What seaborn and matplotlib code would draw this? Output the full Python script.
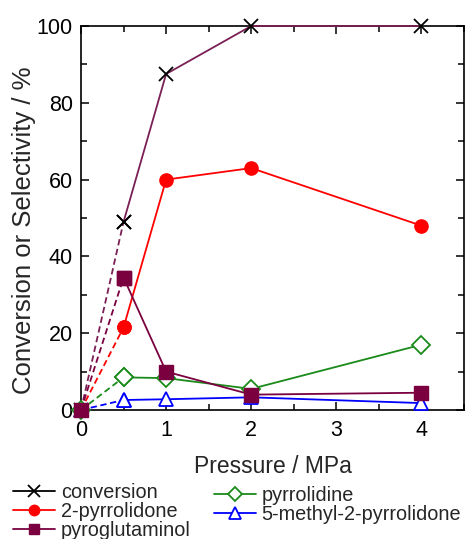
import matplotlib
matplotlib.use("Agg")
import matplotlib.pyplot as plt
from matplotlib.lines import Line2D
from matplotlib.ticker import MultipleLocator
import numpy as np
import pandas as pd
import seaborn as sns

# Reaction pressure (MPa) and results (%)
pressure = [0, 0.5, 1, 2, 4]
conversion = [0, 49, 87.5, 100, 100]
pyrrolidone = [0, 21.5, 60, 63, 48]
pyroglutaminol = [0, 34.5, 10, 4, 4.5]
pyrrolidine = [0, 8.5, 8.3, 5.5, 17]
methyl_pyrrolidone = [0, 2.6, 2.8, 3.3, 1.8]

series_names = ["conversion", "2-pyrrolidone", "pyroglutaminol",
                "pyrrolidine", "5-methyl-2-pyrrolidone"]
series_values = [conversion, pyrrolidone, pyroglutaminol,
                 pyrrolidine, methyl_pyrrolidone]

df = pd.DataFrame({
    "series": np.repeat(series_names, len(pressure)),
    "pressure": pressure * len(series_names),
    "value": np.concatenate(series_values),
})

styles = {
    "conversion": dict(line="#7a1f55", marker="x", mfc="black", mec="black", ms=10, mew=1.3, legend_line="black"),
    "2-pyrrolidone": dict(line="#ff0000", marker="o", mfc="#ff0000", mec="#ff0000", ms=9.5, mew=1.0, legend_line="#ff0000"),
    "pyroglutaminol": dict(line="#7a0040", marker="s", mfc="#7a0040", mec="#7a0040", ms=9.5, mew=1.0, legend_line="#7a0040"),
    "pyrrolidine": dict(line="#1a8a1a", marker="D", mfc="white", mec="#1a8a1a", ms=9.5, mew=1.3, legend_line="#1a8a1a"),
    "5-methyl-2-pyrrolidone": dict(line="#0000ff", marker="^", mfc="white", mec="#0000ff", ms=10, mew=1.3, legend_line="#0000ff"),
}
draw_order = ["5-methyl-2-pyrrolidone", "pyrrolidine", "2-pyrrolidone",
              "conversion", "pyroglutaminol"]

sns.set_theme(style="ticks")
plt.rcParams["font.family"] = ["Liberation Sans", "DejaVu Sans"]

fig = plt.figure(figsize=(4.69, 5.39), dpi=100)
ax = fig.add_axes([81 / 469, 1 - 410 / 539, (464 - 81) / 469, (410 - 26) / 539])

for z, name in enumerate(draw_order):
    st = styles[name]
    sub = df[df["series"] == name]
    first = sub[sub["pressure"] <= 0.5]
    rest = sub[sub["pressure"] >= 0.5]
    mk = dict(marker=st["marker"], markersize=st["ms"], markerfacecolor=st["mfc"],
              markeredgecolor=st["mec"], markeredgewidth=st["mew"], clip_on=False,
              zorder=3 + z)
    sns.lineplot(data=first, x="pressure", y="value", ax=ax, color=st["line"],
                 linestyle=(0, (3.5, 2)), linewidth=1.3, estimator=None, **mk)
    sns.lineplot(data=rest, x="pressure", y="value", ax=ax, color=st["line"],
                 linestyle="-", linewidth=1.3, estimator=None, **mk)

ax.set_xlim(0, 4.5)
ax.set_ylim(0, 100)
ax.xaxis.set_major_locator(MultipleLocator(1))
ax.xaxis.set_minor_locator(MultipleLocator(0.5))
ax.yaxis.set_major_locator(MultipleLocator(20))
ax.yaxis.set_minor_locator(MultipleLocator(10))
ax.tick_params(which="both", direction="in", top=True, right=True,
               labelsize=15.5, colors="black", width=1.1)
ax.tick_params(which="major", length=6)
ax.tick_params(which="minor", length=4)
ax.tick_params(axis="x", which="major", pad=7.5)
ax.tick_params(axis="y", which="major", pad=6)
for sp in ax.spines.values():
    sp.set_linewidth(1.2)
    sp.set_color("black")

ax.set_xlabel("Pressure / MPa", fontsize=16.5)
ax.xaxis.set_label_coords(0.5, (410 - 455) / 384)
ax.set_ylabel("Conversion or Selectivity / %", fontsize=18.5)
ax.yaxis.set_label_coords((36 - 81) / 383, (410 - 230) / 384)


def handle(name):
    st = styles[name]
    return Line2D([], [], color=st["legend_line"], linewidth=1.3, marker=st["marker"],
                  markersize=st["ms"] - 2, markerfacecolor=st["mfc"],
                  markeredgecolor=st["mec"], markeredgewidth=st["mew"])


legend_kw = dict(loc="upper left", frameon=False, fontsize=14.3, handlelength=2.1,
                 handletextpad=0.3, labelspacing=0.0, borderpad=0, borderaxespad=0)
left_names = series_names[:3]
right_names = series_names[3:]
fig.legend([handle(n) for n in left_names], left_names,
           bbox_to_anchor=(13 / 469, 1 - 483 / 539), **legend_kw)
fig.legend([handle(n) for n in right_names], right_names,
           bbox_to_anchor=(214 / 469, 1 - 486 / 539), **legend_kw)

fig.savefig("out.png", dpi=100)
